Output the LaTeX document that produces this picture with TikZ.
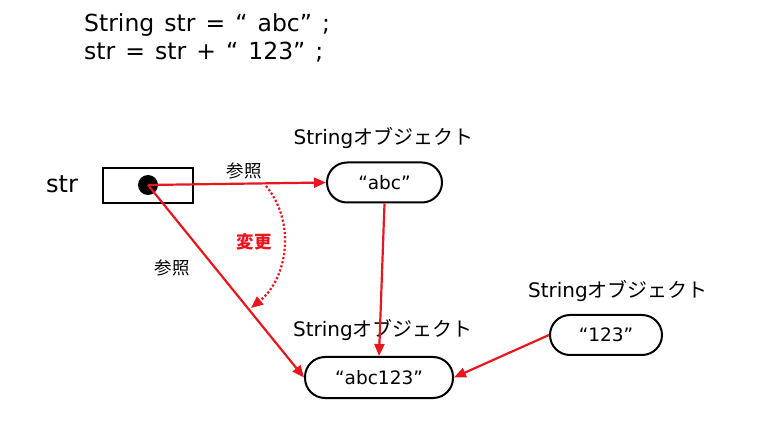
\documentclass[tikz,border=0pt]{standalone}
\usepackage{fontspec}
\setmainfont{DejaVu Sans}
\newfontfamily\jp{Noto Sans CJK JP}
\newfontfamily\codefont[WordSpace=1.35]{DejaVu Sans}
\usetikzlibrary{arrows.meta}
\definecolor{myred}{RGB}{232,22,30}
\tikzset{
  obj/.style={draw=black, line width=2pt, rounded corners=20pt, minimum width=115pt, minimum height=40pt, inner sep=0pt, font=\fontsize{18.5}{20}\selectfont},
  lbl/.style={font=\fontsize{20}{22}\selectfont, inner sep=0pt},
  ref/.style={draw=myred, line width=2.2pt, -{Triangle[length=12pt,width=10pt]}},
  small/.style={font=\jp\fontsize{17.5}{19}\selectfont, inner sep=0pt}
}
\begin{document}
\begin{tikzpicture}[x=1pt,y=-1pt]
\useasboundingbox (0,0) rectangle (768,427);
\node[anchor=base west, inner sep=0pt, font=\codefont\fontsize{23.5}{30}\selectfont] (code1) at (84,32) {String str = “ abc” ;};
\node[anchor=base west, inner sep=0pt, font=\codefont\fontsize{23.5}{30}\selectfont] (code2) at (84,60) {str = str + “ 123” ;};

\node[anchor=west, inner sep=0pt, font=\fontsize{24}{26}\selectfont] (strlbl) at (46,184) {str};
\node[draw=black, line width=2pt, minimum width=90pt, minimum height=35pt, inner sep=0pt] (box) at (148,185.5) {};
\node[circle, fill=black, minimum size=20pt, inner sep=0pt] (dot) at (148,185) {};

\node[obj] (abc) at (384.5,182.5) {“abc”};
\node[lbl] (t1) at (383.5,138) {String{\jp オブジェクト}};
\node[obj, minimum width=148pt, minimum height=41pt] (abc123) at (379,377.5) {“abc123”};
\node[lbl] (t2) at (383,330) {String{\jp オブジェクト}};
\node[obj, minimum width=112pt] (n123) at (606,335) {“123”};
\node[lbl] (t3) at (618,291) {String{\jp オブジェクト}};

\draw[ref] (dot.center) -- (abc.west);
\node[small] (r1) at (244,171) {参照};
\draw[ref] (dot.center) -- (abc123.west);
\node[small] (r2) at (172,268) {参照};
\draw[ref] (abc.south) -- (abc123.north);
\draw[ref] (n123.west) -- (abc123.east);

\coordinate (arcs) at (266,186);
\coordinate (arce) at (251,308);
\draw[myred, line width=2.2pt, dotted, -{Triangle[length=12pt,width=10pt]}] (arcs) .. controls (296,222) and (288,278) .. (arce);
\node[small, text=myred, font=\jp\fontsize{17.5}{19}\selectfont\bfseries] (chg) at (254,242) {変更};
\end{tikzpicture}
\end{document}
